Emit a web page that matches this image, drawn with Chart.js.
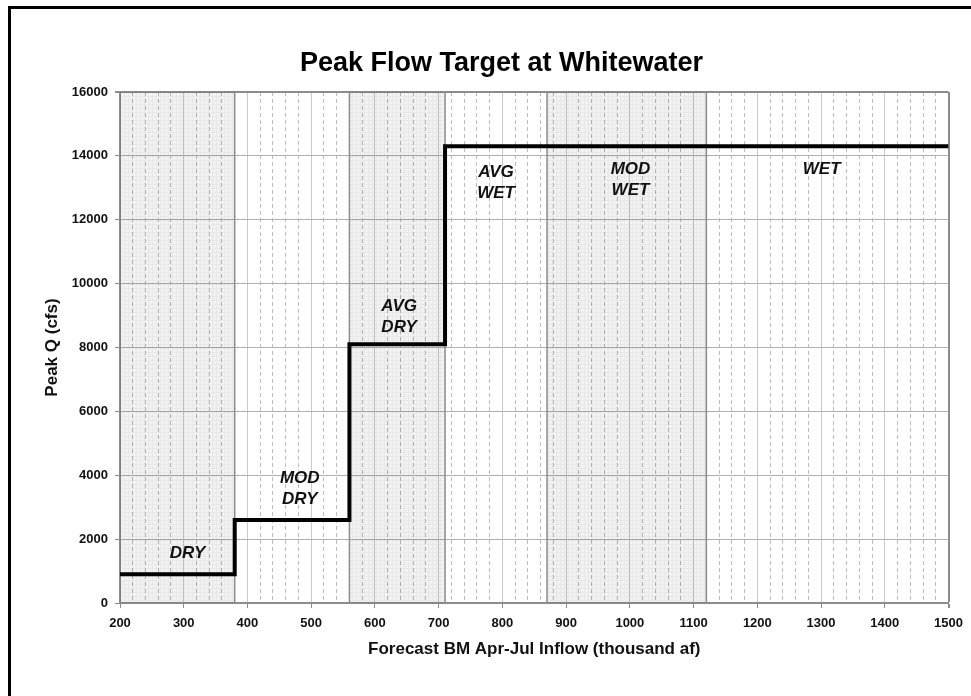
<!DOCTYPE html>
<html><head><meta charset="utf-8">
<script src="https://cdn.jsdelivr.net/npm/chart.js@4"></script>
<style>
html,body{margin:0;padding:0;background:#fff;overflow:hidden;width:971px;height:696px;}
#frame{position:absolute;left:8px;top:6px;width:1000px;height:1000px;border:3px solid #000;box-sizing:border-box;}
#c{position:absolute;left:0;top:0;}
</style></head><body>
<div id="frame"></div>
<canvas id="c" width="971" height="696"></canvas>
<script>
// ---- data ----
const flowEdges = [200, 380, 560, 710, 870, 1120, 1500];   // zone boundaries (thousand af)
const peakQ = [900, 2600, 8100, 14300, 14300, 14300];       // peak flow target per zone (cfs)
const zoneNames = ['DRY', 'MOD DRY', 'AVG DRY', 'AVG WET', 'MOD WET', 'WET'];
const zoneShaded = [true, false, true, false, true, false];
const labelX = [306, 482, 638, 790, 1001, 1301];
const labelY = [1570, 3900, 9300, 13500, 13590, 13590];
const xMin = 200, xMax = 1500, xMajorStep = 100, xMinorStep = 20;
const yMin = 0, yMax = 16000, yStep = 2000;

const FAMILY = '"Liberation Sans", Arial, Helvetica, sans-serif';
Chart.defaults.font.family = FAMILY;

const canvas = document.getElementById('c');
const ctx = canvas.getContext('2d');

function makePattern() {
  const t = document.createElement('canvas');
  t.width = 4; t.height = 4;
  const g = t.getContext('2d');
  g.fillStyle = 'rgba(0,0,0,0.05)';
  g.fillRect(0, 0, 4, 4);
  g.fillStyle = 'rgba(0,0,0,0.04)';
  g.fillRect(0, 0, 4, 1);
  g.fillRect(0, 1, 1, 3);
  return ctx.createPattern(t, 'repeat');
}
const shadePattern = makePattern();

const stepPoints = flowEdges.map((x, i) => ({ x: x, y: peakQ[Math.min(i, peakQ.length - 1)] }));

const datasets = [
  { label: 'Peak Q', data: stepPoints, stepped: 'before', borderColor: '#000', borderWidth: 4,
    pointRadius: 0, fill: false, order: 0 }
];
flowEdges.slice(1, -1).forEach(x => {
  datasets.push({ label: 'edge', data: [{ x: x, y: yMin }, { x: x, y: yMax }], borderColor: '#8c8c8c',
    borderWidth: 1.5, pointRadius: 0, fill: false, order: 1 });
});
zoneShaded.forEach((s, i) => {
  if (!s) return;
  datasets.push({ label: zoneNames[i], data: [{ x: flowEdges[i], y: yMax }, { x: flowEdges[i + 1], y: yMax }],
    fill: 'origin', backgroundColor: shadePattern, borderColor: 'transparent', borderWidth: 0,
    pointRadius: 0, order: 2 });
});

const zoneLabelPlugin = {
  id: 'zoneLabels',
  afterDatasetsDraw(chart) {
    const c = chart.ctx, xs = chart.scales.x, ys = chart.scales.y;
    c.save();
    c.font = 'italic bold 17px ' + FAMILY;
    c.fillStyle = '#111';
    c.textAlign = 'center';
    c.textBaseline = 'middle';
    zoneNames.forEach((name, i) => {
      const px = xs.getPixelForValue(labelX[i]);
      const py = ys.getPixelForValue(labelY[i]);
      name.split(' ').forEach((line, j) => c.fillText(line, px, py + j * 21));
    });
    c.restore();
  }
};

new Chart(ctx, {
  type: 'line',
  data: { datasets: datasets },
  plugins: [zoneLabelPlugin],
  options: {
    responsive: false,
    animation: false,
    layout: { padding: { left: 52, right: 20, top: 0, bottom: 0 } },
    plugins: {
      legend: { display: false },
      tooltip: { enabled: false },
      title: { display: true, text: 'Peak Flow Target at Whitewater', color: '#000',
        font: { size: 27, weight: 'bold', family: FAMILY }, padding: { top: 47, bottom: 12.6 } }
    },
    scales: {
      x: {
        type: 'linear', position: 'bottom', min: xMin, max: xMax,
        afterFit(s) { s.height = 93; },
        ticks: { stepSize: xMajorStep, autoSkip: false, maxRotation: 0, padding: 8, color: '#111',
          font: { size: 13, weight: 'bold' }, callback: v => String(v) },
        grid: {
          color: c => (c.tick && c.tick.value === xMax) ? '#8c8c8c' : '#cbcbcb',
          lineWidth: c => (c.tick && c.tick.value === xMax) ? 2 : 1,
          tickLength: 5, tickColor: '#8c8c8c', drawTicks: true
        },
        border: { color: '#8c8c8c', width: 2 },
        title: { display: true, text: 'Forecast BM Apr-Jul Inflow (thousand af)', color: '#111',
          font: { size: 17, weight: 'bold' }, padding: { top: 0, bottom: 36 } }
      },
      xMinor: {
        type: 'linear', position: 'top', min: xMin, max: xMax,
        afterFit(s) { s.height = 0; },
        ticks: { display: false, stepSize: xMinorStep },
        grid: { color: '#bdbdbd', lineWidth: 1, drawTicks: false, z: -2 },
        border: { display: false, dash: [4, 3] }
      },
      y: {
        type: 'linear', min: yMin, max: yMax,
        afterFit(s) { s.width = 68; },
        ticks: { stepSize: yStep, padding: 7, color: '#111', font: { size: 13, weight: 'bold' },
          callback: v => String(v) },
        grid: {
          color: c => (c.tick && c.tick.value === yMax) ? '#8c8c8c' : '#b0b0b0',
          lineWidth: c => (c.tick && c.tick.value === yMax) ? 2 : 1,
          tickLength: 5, tickColor: '#8c8c8c'
        },
        border: { color: '#8c8c8c', width: 2 },
        title: { display: true, text: 'Peak Q (cfs)', color: '#111',
          font: { size: 17, weight: 'bold' }, padding: { top: -10, bottom: 0 } }
      }
    }
  }
});
</script></body></html>
